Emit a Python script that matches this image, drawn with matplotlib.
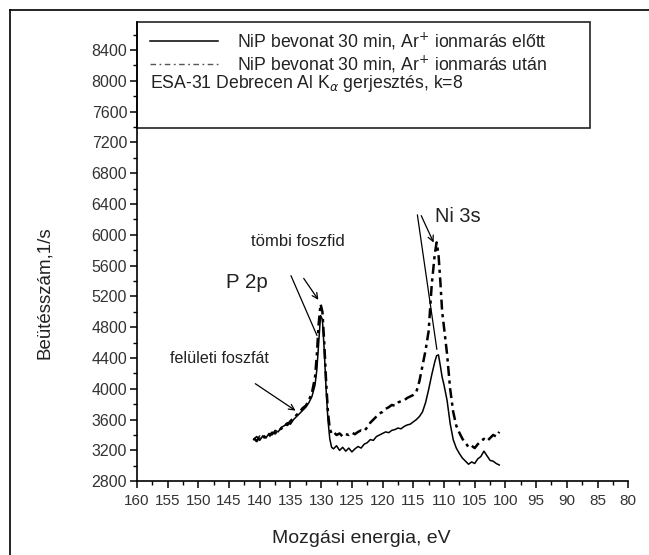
import matplotlib
matplotlib.use('Agg')
import matplotlib.pyplot as plt
from matplotlib.lines import Line2D
from matplotlib.patches import Rectangle
from matplotlib.ticker import MultipleLocator

plt.rcParams['font.family'] = ['Liberation Sans', 'DejaVu Sans']

# kinetic energy, eV
energy = [141.0, 140.5, 140.0, 139.5, 139.0, 138.5, 138.0, 137.5, 137.0, 136.5,
          136.0, 135.5, 135.0, 134.5, 134.0, 133.5, 133.0, 132.5, 132.0, 131.5,
          131.0, 130.7, 130.4, 130.1, 129.8, 129.5, 129.2, 128.9, 128.6, 128.3,
          128.0, 127.5, 127.0, 126.5, 126.0, 125.5, 125.0, 124.5, 124.0, 123.5,
          123.0, 122.5, 122.0, 121.5, 121.0, 120.5, 120.0, 119.5, 119.0, 118.5,
          118.0, 117.5, 117.0, 116.5, 116.0, 115.5, 115.0, 114.5, 114.0, 113.5,
          113.0, 112.5, 112.0, 111.5, 111.2, 110.9, 110.6, 110.3, 110.0, 109.5,
          109.0, 108.5, 108.0, 107.5, 107.0, 106.5, 106.0, 105.5, 105.0, 104.5,
          104.0, 103.5, 103.0, 102.5, 102.0, 101.5, 101.0]

# before Ar+ etching (solid)
counts_before = [3340, 3380, 3330, 3390, 3360, 3420, 3400, 3460, 3440, 3500,
                 3520, 3560, 3540, 3600, 3640, 3680, 3720, 3760, 3820, 3900,
                 4050, 4250, 4600, 4950, 4900, 4500, 4000, 3600, 3350, 3240,
                 3220, 3260, 3200, 3240, 3190, 3230, 3180, 3220, 3250, 3230,
                 3280, 3300, 3340, 3330, 3380, 3400, 3420, 3440, 3430, 3460,
                 3470, 3490, 3480, 3510, 3530, 3540, 3570, 3600, 3640, 3700,
                 3820, 3990, 4180, 4350, 4430, 4440, 4300, 4150, 4050, 3850,
                 3550, 3340, 3230, 3160, 3100, 3060, 3020, 3050, 3030, 3090,
                 3120, 3190, 3130, 3070, 3060, 3030, 3010]

# after Ar+ etching (dash-dot)
counts_after = [3360, 3320, 3380, 3350, 3400, 3380, 3430, 3420, 3470, 3480,
                3540, 3530, 3580, 3620, 3660, 3700, 3750, 3780, 3850, 3950,
                4150, 4450, 4850, 5100, 5000, 4600, 4100, 3700, 3480, 3420,
                3440, 3400, 3420, 3380, 3410, 3400, 3430, 3410, 3440, 3460,
                3450, 3500, 3560, 3600, 3640, 3680, 3700, 3740, 3760, 3790,
                3780, 3820, 3840, 3850, 3880, 3900, 3920, 3960, 4100, 4300,
                4500, 4750, 5350, 5750, 5900, 5750, 5400, 5000, 4800, 4450,
                4000, 3700, 3520, 3430, 3350, 3300, 3240, 3260, 3230, 3280,
                3320, 3350, 3320, 3360, 3400, 3380, 3440]

yticks = list(range(2800, 8401, 400))
xticks = list(range(160, 79, -5))

fig = plt.figure(figsize=(6.49, 5.55), dpi=100)
ax = fig.add_axes([0.211, 0.133, 0.757, 0.827])

dashdot = (0, (4, 1.8, 1.3, 1.8))
ax.plot(energy, counts_before, color='black', lw=1.1)
ax.plot(energy, counts_after, color='black', lw=1.8, linestyle=dashdot)

ax.set_xlim(160, 80)
ax.set_ylim(2800, 8760)
ax.set_xticks(xticks)
ax.set_yticks(yticks)
ax.xaxis.set_minor_locator(MultipleLocator(2.5))
ax.yaxis.set_minor_locator(MultipleLocator(200))
ax.tick_params(which='major', direction='out', length=5, width=1.1,
               labelcolor='#333333')
ax.tick_params(which='minor', direction='out', length=3, width=1)
ax.tick_params(axis='x', labelsize=11, pad=4)
ax.tick_params(axis='y', labelsize=11.5, pad=2)
ax.spines['top'].set_visible(False)
ax.spines['right'].set_visible(False)
ax.spines['left'].set_linewidth(1.2)
ax.spines['bottom'].set_linewidth(1.2)

fig.text(0.069, 0.472, 'Beütésszám,1/s', rotation=90, ha='center', va='center',
         fontsize=13.5, color='#222222')
fig.text(0.556, 0.03, 'Mozgási energia, eV', ha='center', va='center',
         fontsize=14, color='#222222')

# legend box
ax.add_patch(Rectangle((0, 0.769), 0.923, 0.231, transform=ax.transAxes,
                       fill=False, lw=1.2, edgecolor='#222222', clip_on=False))
ax.add_line(Line2D([0.026, 0.165], [0.959, 0.959], transform=ax.transAxes,
                   color='black', lw=1.1))
ax.add_line(Line2D([0.026, 0.165], [0.908, 0.908], transform=ax.transAxes,
                   color='#555555', lw=1.0, linestyle=(0, (4, 2.5, 1.3, 2.5))))
ax.text(0.204, 0.959, 'NiP bevonat 30 min, Ar$^{+}$ ionmarás előtt',
        transform=ax.transAxes, va='center', fontsize=12.7, color='#222222')
ax.text(0.204, 0.908, 'NiP bevonat 30 min, Ar$^{+}$ ionmarás után',
        transform=ax.transAxes, va='center', fontsize=12.7, color='#222222')
ax.text(0.026, 0.866, r'ESA-31 Debrecen Al K$_\alpha$ gerjesztés, k=8',
        transform=ax.transAxes, va='center', fontsize=12.7, color='#222222')

# peak annotations
arrow = dict(arrowstyle='->', color='black', lw=0.9)
plain = dict(arrowstyle='-', color='black', lw=0.9)
ax.text(142.1, 5385, 'P 2p', ha='center', va='center', fontsize=14.8, color='#222222')
ax.annotate('', xy=(130.2, 5125), xytext=(133.1, 5463), arrowprops=arrow)
ax.annotate('', xy=(130.5, 4658), xytext=(135.1, 5502), arrowprops=plain)
ax.text(133.8, 5918, 'tömbi foszfid', ha='center', va='center', fontsize=12,
        color='#222222')
ax.text(146.5, 4398, 'felületi foszfát', ha='center', va='center', fontsize=11.6,
        color='#222222')
ax.annotate('', xy=(133.8, 3696), xytext=(141.1, 4086), arrowprops=arrow)
ax.text(107.7, 6242, 'Ni 3s', ha='center', va='center', fontsize=14.4,
        color='#222222')
ax.annotate('', xy=(111.5, 5866), xytext=(113.9, 6281), arrowprops=arrow)
ax.annotate('', xy=(111.1, 4476), xytext=(114.4, 6294), arrowprops=plain)

# outer frame (top and left edges)
fig.add_artist(Line2D([0.0154, 1.0], [0.982, 0.982], transform=fig.transFigure,
                      color='black', lw=1.2))
fig.add_artist(Line2D([0.0154, 0.0154], [0.0, 0.982], transform=fig.transFigure,
                      color='black', lw=1.2))

fig.savefig('out.png', dpi=100)
